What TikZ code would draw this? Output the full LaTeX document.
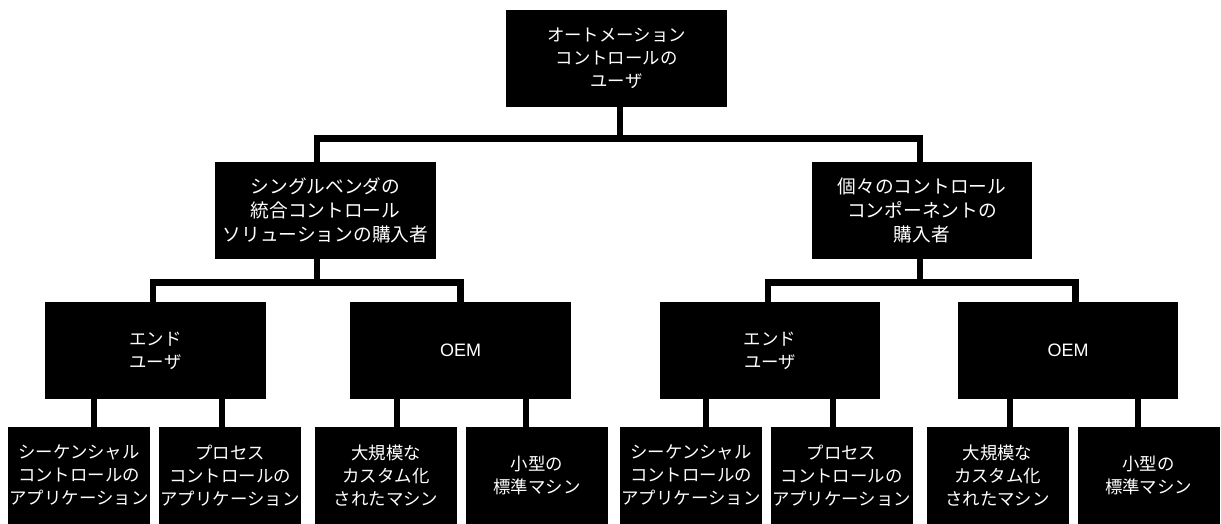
\documentclass[tikz,border=0pt]{standalone}
\usepackage{fontspec}
\setmainfont{Liberation Sans}
\newfontfamily\jp{Noto Sans CJK JP}
\begin{document}
\begin{tikzpicture}[x=1pt,y=-1pt,
  box/.style={rectangle,fill=black,text=white,inner sep=0pt,align=center,
    minimum width=221pt,minimum height=97pt,font=\jp\fontsize{17.4}{23}\selectfont},
  midbox/.style={box,font=\jp\fontsize{18.7}{24.3}\selectfont},
  leaf/.style={box,minimum width=142pt},
  latin/.style={font=\fontsize{18}{22}\selectfont},
  conn/.style={draw=black,line width=6.5pt,line join=miter,line cap=butt}]
\useasboundingbox[fill=white] (0,0) rectangle (1221,524);

\node[box] (top) at (616.5,58.5) {オートメーション\\コントロールの\\ユーザ};
\node[midbox] (L2a) at (325.5,210.5) {シングルベンダの\\統合コントロール\\ソリューションの購入者};
\node[midbox,minimum width=220pt] (L2b) at (922,210.5) {個々のコントロール\\コンポーネントの\\購入者};

\node[box] (EU1) at (155.5,350.5) {エンド\\ユーザ};
\node[box,latin] (OEM1) at (460.5,350.5) {OEM};
\node[box,minimum width=220pt] (EU2) at (770,350.5) {エンド\\ユーザ};
\node[box,latin,minimum width=220pt] (OEM2) at (1068,350.5) {OEM};

\node[leaf] (A1) at (79,475.5) {シーケンシャル\\コントロールの\\アプリケーション};
\node[leaf] (A2) at (230,475.5) {プロセス\\コントロールの\\アプリケーション};
\node[leaf] (A3) at (386,475.5) {大規模な\\カスタム化\\されたマシン};
\node[leaf] (A4) at (537,475.5) {小型の\\標準マシン};
\node[leaf] (B1) at (691,475.5) {シーケンシャル\\コントロールの\\アプリケーション};
\node[leaf] (B2) at (841.5,475.5) {プロセス\\コントロールの\\アプリケーション};
\node[leaf] (B3) at (997.5,475.5) {大規模な\\カスタム化\\されたマシン};
\node[leaf] (B4) at (1148.5,475.5) {小型の\\標準マシン};

% level 1 -> level 2
\coordinate (bar1) at (620,138.5);
\draw[conn] ([xshift=3.5]top.south) -- (bar1);
\draw[conn] ([xshift=-8.5]L2a.north) |- (bar1) -| ([xshift=-2]L2b.north);

% level 2 -> level 3
\coordinate (bar2a) at (317,282.5);
\draw[conn] ([xshift=-8.5]L2a.south) -- (bar2a);
\draw[conn] ([xshift=-2.5]EU1.north) |- (bar2a) -| ([xshift=0]OEM1.north);
\coordinate (bar2b) at (920,282.5);
\draw[conn] ([xshift=-2]L2b.south) -- (bar2b);
\draw[conn] ([xshift=-2]EU2.north) |- (bar2b) -| ([xshift=7.5]OEM2.north);

% level 3 -> leaves
\draw[conn] ([xshift=-61.5]EU1.south) -- ([xshift=15]A1.north);
\draw[conn] ([xshift=66.5]EU1.south) -- ([xshift=-8]A2.north);
\draw[conn] ([xshift=-63.5]OEM1.south) -- ([xshift=11]A3.north);
\draw[conn] ([xshift=65.5]OEM1.south) -- ([xshift=-11]A4.north);
\draw[conn] ([xshift=-64]EU2.south) -- ([xshift=15]B1.north);
\draw[conn] ([xshift=63]EU2.south) -- ([xshift=-8.5]B2.north);
\draw[conn] ([xshift=-58]OEM2.south) -- ([xshift=12.5]B3.north);
\draw[conn] ([xshift=70]OEM2.south) -- ([xshift=-10.5]B4.north);
\end{tikzpicture}
\end{document}
